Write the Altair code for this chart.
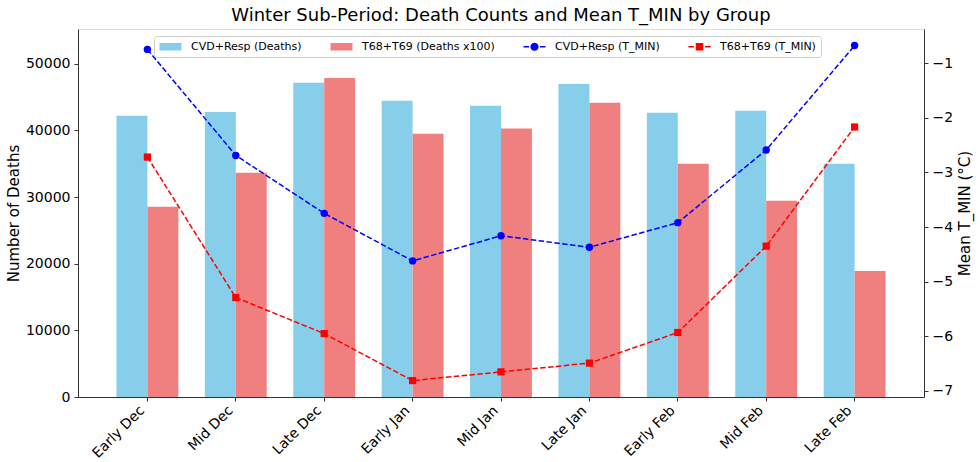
import altair as alt
import pandas as pd

periods = ["Early Dec", "Mid Dec", "Late Dec", "Early Jan", "Mid Jan",
           "Late Jan", "Early Feb", "Mid Feb", "Late Feb"]
cvd_deaths = [42190, 42750, 47150, 44440, 43690, 46950, 42640, 42940, 34980]
t68_deaths_x100 = [28530, 33630, 47850, 39490, 40290, 44140, 34980, 29430, 18920]
cvd_tmin = [-0.75, -2.69, -3.75, -4.62, -4.16, -4.37, -3.92, -2.59, -0.68]
t68_tmin = [-2.72, -5.29, -5.95, -6.81, -6.65, -6.49, -5.93, -4.35, -2.17]

labels = ["CVD+Resp (Deaths)", "T68+T69 (Deaths x100)",
          "CVD+Resp (T_MIN)", "T68+T69 (T_MIN)"]
colors = ["#87CEEB", "#F08080", "#0000FF", "#FF0000"]

FONT = "DejaVu Sans"

bars_df = pd.DataFrame({
    "period": periods * 2,
    "series": [labels[0]] * 9 + [labels[1]] * 9,
    "deaths": cvd_deaths + t68_deaths_x100,
})
lines_df = pd.DataFrame({
    "period": periods * 2,
    "series": [labels[2]] * 9 + [labels[3]] * 9,
    "tmin": cvd_tmin + t68_tmin,
})
legend_df = pd.DataFrame({"series": labels})

# fill scale (bars + markers) and stroke scale (lines) use their own domains,
# so that their hidden legends are not merged with the visible one
fill_scale = alt.Scale(domain=labels[::-1], range=colors[::-1])
stroke_scale = alt.Scale(domain=labels[2:], range=colors[2:])

x_enc = alt.X("period:N", sort=periods, title=None,
              scale=alt.Scale(paddingInner=0.3, paddingOuter=0.435),
              axis=alt.Axis(labelAngle=315, labelAlign="right", labelBaseline="bottom",
                            labelFontSize=14, labelFont=FONT, labelColor="black",
                            tickSize=4, labelPadding=12, domainColor="#333",
                            tickColor="#333", labelOverlap=False))

bars = alt.Chart(bars_df).mark_bar(opacity=1, strokeWidth=0).encode(
    x=x_enc,
    xOffset=alt.XOffset("series:N", sort=labels[:2],
                        scale=alt.Scale(domain=labels[:2], paddingInner=0, paddingOuter=0)),
    y=alt.Y("deaths:Q", title="Number of Deaths",
            scale=alt.Scale(domain=[0, 55210], nice=False, zero=True),
            axis=alt.Axis(orient="left", values=[0, 10000, 20000, 30000, 40000, 50000],
                          format="d", grid=False, labelFontSize=14, labelFont=FONT,
                          labelColor="black", titleFont=FONT, titleFontSize=15,
                          titleFontWeight="normal", titleColor="black", tickSize=4,
                          labelPadding=4, titlePadding=4, domainColor="#333",
                          tickColor="#333")),
    fill=alt.Fill("series:N", scale=fill_scale, legend=None),
)

y_right = alt.Y("tmin:Q", title="Mean T_MIN (°C)",
                scale=alt.Scale(domain=[-7.11, -0.377], nice=False, zero=False),
                axis=alt.Axis(orient="right", values=[-1, -2, -3, -4, -5, -6, -7],
                              format="d", grid=False, labelFontSize=14, labelFont=FONT,
                              labelColor="black", titleFont=FONT, titleFontSize=15,
                              titleFontWeight="normal", titleColor="black",
                              titleAngle=270, titleBaseline="top", tickSize=4,
                              labelPadding=4, titlePadding=5, domainColor="#333",
                              tickColor="#333"))

base_lines = alt.Chart(lines_df)
lines = base_lines.mark_line(strokeDash=[5.5, 2.4], strokeWidth=1.5).encode(
    x=alt.X("period:N", sort=periods),
    y=y_right,
    stroke=alt.Stroke("series:N", scale=stroke_scale, legend=None),
)
pts_c = base_lines.transform_filter(alt.datum.series == labels[2]).mark_point(
    shape="circle", filled=True, size=55, opacity=1, strokeWidth=0).encode(
    x=alt.X("period:N", sort=periods),
    y=alt.Y("tmin:Q"),
    fill=alt.Fill("series:N", scale=fill_scale, legend=None),
)
pts_s = base_lines.transform_filter(alt.datum.series == labels[3]).mark_point(
    shape="square", filled=True, size=52, opacity=1, strokeWidth=0).encode(
    x=alt.X("period:N", sort=periods),
    y=alt.Y("tmin:Q"),
    fill=alt.Fill("series:N", scale=fill_scale, legend=None),
)

rect_path = "M-1,-0.75H3.4V0.75H-1Z"
circ_path = ("M-1,-0.15H0.1V0.15H-1Z M2.3,-0.15H3.4V0.15H2.3Z "
             "M0.38,0A0.82,0.82 0 1,0 2.02,0A0.82,0.82 0 1,0 0.38,0Z")
sq_path = ("M-1,-0.15H0.1V0.15H-1Z M2.3,-0.15H3.4V0.15H2.3Z "
           "M0.45,-0.75H1.95V0.75H0.45Z")

leg = alt.Legend(title=None, orient="none", legendX=76, legendY=7,
                 direction="horizontal", symbolSize=100,
                 symbolStrokeWidth=0, labelFontSize=11,
                 labelFont=FONT, labelColor="black",
                 labelOffset=21, columnPadding=28, padding=5,
                 fillColor="rgba(255,255,255,0.8)",
                 strokeColor="#cccccc", cornerRadius=3)

legend_layer = alt.Chart(legend_df).mark_point(
    filled=True, opacity=1, size=0).encode(
    color=alt.Color("series:N", scale=alt.Scale(domain=labels, range=colors), legend=leg),
    shape=alt.Shape("series:N",
                    scale=alt.Scale(domain=labels,
                                    range=[rect_path, rect_path, circ_path, sq_path]),
                    legend=leg),
)

right = alt.layer(lines, pts_c, pts_s, legend_layer)

chart = alt.layer(bars, right).resolve_scale(y="independent").properties(
    width=846, height=368,
    autosize=alt.AutoSizeParams(type="none"),
    padding={"left": 78, "top": 29, "right": 56, "bottom": 65},
    title=alt.Title("Winter Sub-Period: Death Counts and Mean T_MIN by Group",
                    fontSize=18, font=FONT, fontWeight="normal", color="black",
                    anchor="middle", offset=4),
).configure_view(stroke="#333", strokeWidth=1).configure(background="white")

chart.save("out.html", embed_options={"renderer": "svg", "actions": False})
